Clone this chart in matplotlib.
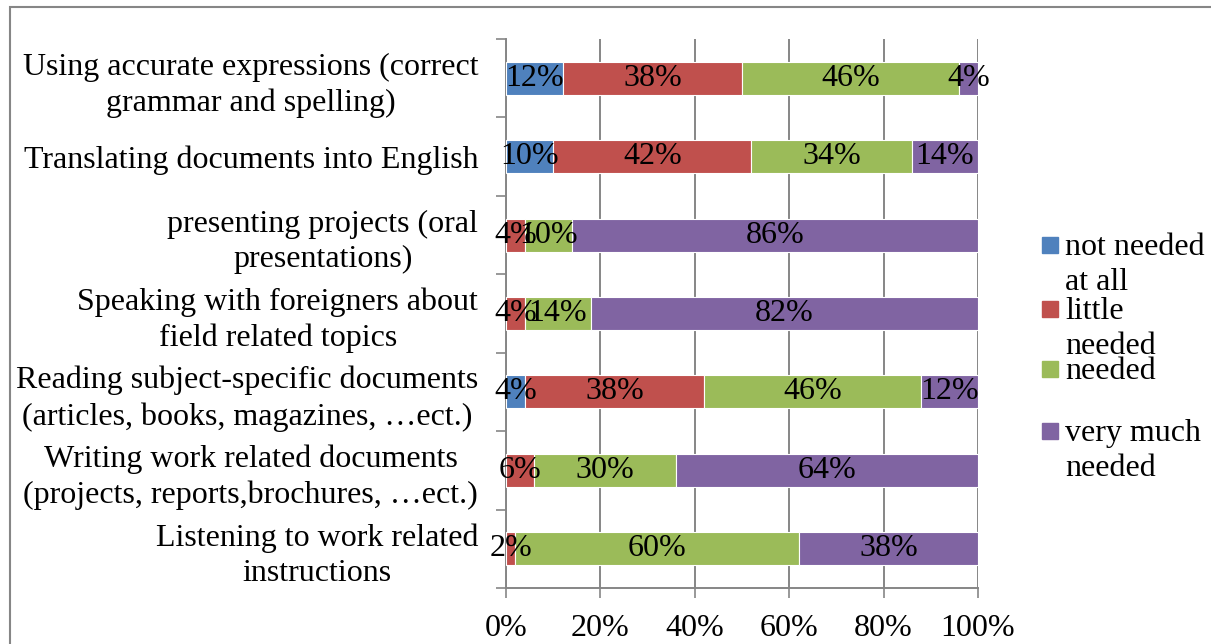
import matplotlib
matplotlib.use("Agg")
import matplotlib.pyplot as plt
from matplotlib.patches import Rectangle
import numpy as np

plt.rcParams['font.family'] = ['Liberation Serif', 'DejaVu Serif']

categories = [
    "Using accurate expressions (correct\ngrammar and spelling)",
    "Translating documents into English",
    "presenting projects (oral\npresentations)",
    "Speaking with foreigners about\nfield related topics",
    "Reading subject-specific documents\n(articles, books, magazines, \u2026ect.)",
    "Writing work related documents\n(projects, reports,brochures, \u2026ect.)",
    "Listening to work related\ninstructions",
]
series_names = ["not needed\nat all", "little\nneeded", "needed", "very much\nneeded"]
not_needed = [12, 10, 0, 0, 4, 0, 0]
little = [38, 42, 4, 4, 38, 6, 2]
needed = [46, 34, 10, 14, 46, 30, 60]
very_much = [4, 14, 86, 82, 12, 64, 38]
colors = ['#4F81BD', '#C0504D', '#9BBB59', '#8064A2']
xticks = [0, 20, 40, 60, 80, 100]


def main():
    W, H = 1211, 644
    fig = plt.figure(figsize=(W / 100, H / 100), dpi=100)
    ax = fig.add_axes([506 / W, 1 - 588 / H, (978 - 506) / W, (588 - 39) / H])

    data = [not_needed, little, needed, very_much]
    y = np.arange(len(categories))[::-1]
    left = np.zeros(len(categories))
    fs = 23
    for vals, col in zip(data, colors):
        vals = np.array(vals, dtype=float)
        ax.barh(y, vals, left=left, height=0.42, color=col,
                edgecolor='white', linewidth=0.8, zorder=3)
        for yi, l, v in zip(y, left, vals):
            if v > 0:
                ax.text(l + v / 2, yi, '%d%%' % v, ha='center', va='center',
                        fontsize=fs, zorder=4)
        left += vals

    ax.set_xlim(0, 100)
    ax.set_ylim(-0.5, len(categories) - 0.5)
    ax.set_xticks(xticks)
    ax.set_xticklabels(['%d%%' % t for t in xticks], fontsize=fs)
    ax.set_yticks(y)
    ax.set_yticklabels(categories, fontsize=fs, linespacing=1.3)
    for t in ax.get_yticklabels():
        t.set_multialignment('center')
    ax.set_yticks(np.arange(-0.5, len(categories), 1.0), minor=True)
    ax.tick_params(axis='y', which='major', length=0, pad=20)
    ax.tick_params(axis='y', which='minor', length=7, width=1.2, color='#868686')
    ax.tick_params(axis='x', length=7, width=1.2, color='#868686', pad=12)

    ax.grid(axis='x', color='#868686', linewidth=1.4, zorder=0)
    for s in ['top', 'right']:
        ax.spines[s].set_visible(False)
    for s in ['left', 'bottom']:
        ax.spines[s].set_color('#868686')
        ax.spines[s].set_linewidth(1.4)

    # legend drawn by hand to copy the wrapped entries
    sq_centers = [245, 309, 369, 431]
    for name, col, yc in zip(series_names, colors, sq_centers):
        fig.add_artist(Rectangle((1042 / W, 1 - (yc + 8) / H), 16 / W, 16 / H,
                                 transform=fig.transFigure, color=col))
        for k, line in enumerate(name.split('\n')):
            fig.text(1065 / W, 1 - (yc + 10 + 35 * k) / H, line,
                     fontsize=fs, va='baseline', ha='left')

    # outer chart frame
    fig.add_artist(Rectangle((10 / W, -0.2), 1.5, 1.2 - 7 / H,
                             transform=fig.transFigure, fill=False,
                             edgecolor='#868686', linewidth=1.5))

    fig.savefig('out.png', dpi=100)
    plt.close(fig)


if __name__ == "__main__":
    main()
